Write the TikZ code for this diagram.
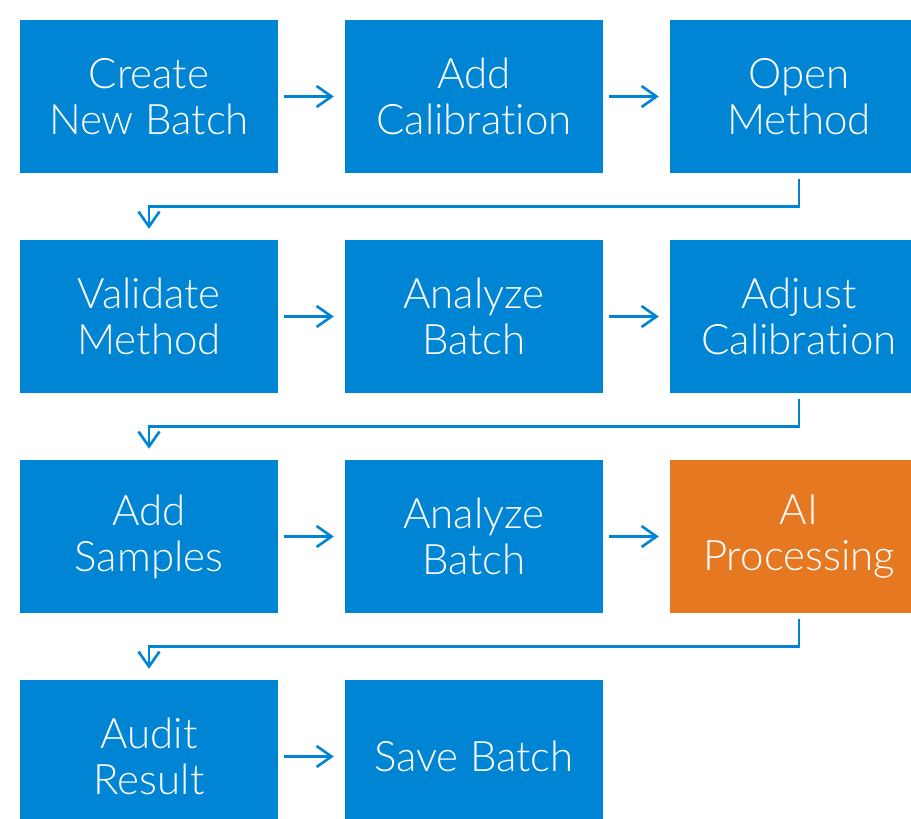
\documentclass[tikz,border=0pt]{standalone}
\usepackage{fontspec}
\setmainfont{Lato}[UprightFont={* Light},Ligatures=NoCommon]
\usetikzlibrary{arrows.meta}
\definecolor{boxblue}{RGB}{0,132,212}
\definecolor{boxorange}{RGB}{230,120,34}
\begin{document}
\begin{tikzpicture}[x=1pt,y=-1pt,
  stepbox/.style={fill=boxblue, minimum width=258pt, minimum height=153pt, inner sep=0pt,
    text=white, align=center, font=\fontsize{42}{46}\selectfont},
  conn/.style={draw=boxblue, line width=2.6pt,
    -{Straight Barb[length=15pt,width=21pt,line width=2.6pt]}}]
\useasboundingbox (0,0) rectangle (911,819);
\clip (0,0) rectangle (911,819);
\node[stepbox] (a1) at (149,96.5) {Create\\New Batch};
\node[stepbox] (a2) at (474,96.5) {Add\\Calibration};
\node[stepbox] (a3) at (799,96.5) {Open\\Method};
\node[stepbox] (b1) at (149,316.5) {Validate\\Method};
\node[stepbox] (b2) at (474,316.5) {Analyze\\Batch};
\node[stepbox] (b3) at (799,316.5) {Adjust\\Calibration};
\node[stepbox] (c1) at (149,536.5) {Add\\Samples};
\node[stepbox] (c2) at (474,536.5) {Analyze\\Batch};
\node[stepbox, fill=boxorange] (c3) at (799,536.5) {AI\\Processing};
\node[stepbox] (d1) at (149,756.5) {Audit\\Result};
\node[stepbox] (d2) at (474,756.5) {Save Batch};
\foreach \p/\q in {a1/a2,a2/a3,b1/b2,b2/b3,c1/c2,c2/c3,d1/d2}
  \draw[conn] ([xshift=6pt]\p.east) -- ([xshift=-11pt]\q.west);
\foreach \p/\q in {a3/b1,b3/c1,c3/d1}
  \draw[conn] ([yshift=-6pt]\p.south) -- ++(0,27) -| ([yshift=11pt]\q.north);
\end{tikzpicture}
\end{document}
